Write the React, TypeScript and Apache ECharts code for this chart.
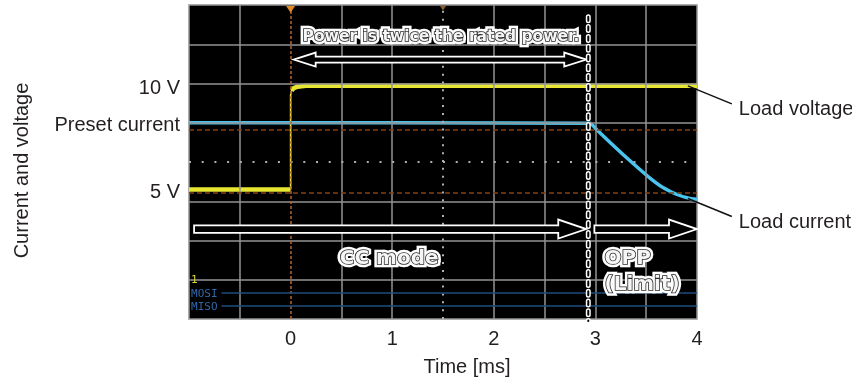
import React, { useEffect, useRef } from 'react';
import * as echarts from 'echarts';

// ---- data (time in ms, level in scope divisions 0..8) ----
const yLabelValues = [3.25, 4.98, 5.9];
const yLabelTexts = ['5 V', 'Preset current', '10 V'];

const voltageTime = [-1, 0, 0, 0.01, 0.03, 0.07, 0.15, 4];
const voltageLevel = [3.3, 3.3, 5.7, 5.82, 5.88, 5.92, 5.94, 5.94];

const currentTime = [-1, 2.947, 3.016, 3.145, 3.272, 3.41, 3.537, 3.665, 3.803, 3.931, 4.0];
const currentLevel = [5.0, 4.99, 4.815, 4.497, 4.191, 3.873, 3.592, 3.35, 3.172, 3.07, 3.045];

const gridX = [-0.5, 0.5, 1, 2, 2.5, 3, 3.5];
const gridY = [1, 2, 3, 5, 6, 7];
const centerX = 1.5;
const centerY = 4;
const triggerX = 0;
const cursorY = [4.82, 3.21];

const channelNames = ['1', 'MOSI', 'MISO'];
const channelLevel = [1.0, 0.66, 0.33];
const channelStart = -0.98;
const channelLineStart = -0.68;

const calloutTexts = ['Power is twice the rated power.', 'CC mode', 'OPP', '(Limit)'];
const calloutX = [1.48, 0.97, 3.09, 3.09];
const calloutY = [7.2, 1.58, 1.58, 0.92];

const arrowFrom = [0.03, -0.95, 2.99];
const arrowTo = [2.91, 2.91, 4.0];
const arrowLevel = [6.61, 2.29, 2.29];
const arrowBoth = [1, 0, 0];

const limitX = 2.93;
const limitTop = 7.7;
const limitBottom = -0.05;

const traceNames = ['Load voltage', 'Load current'];
const traceAnchorX = [3.91, 3.91];
const traceAnchorY = [5.94, 3.07];

const triggerMarks = [0, 1.5];

// ---- styles ----
const FONT = '"Liberation Sans", Arial, sans-serif';
const BOLD_FONT = '"DejaVu Sans", sans-serif';
const TEXT = '#231f20';
const GRID = '#939393';

export default function App() {
  const ref = useRef<HTMLDivElement>(null);

  useEffect(() => {
    if (!ref.current) return;
    const chart = echarts.init(ref.current, null, { renderer: 'svg' });

    const gridLineData: any[] = [];
    gridX.forEach((v) => gridLineData.push({ xAxis: v, lineStyle: { color: GRID, width: 1.5, type: 'solid' } }));
    gridY.forEach((v) => gridLineData.push({ yAxis: v, lineStyle: { color: GRID, width: 1.5, type: 'solid' } }));
    gridLineData.push({ xAxis: centerX, lineStyle: { color: '#b0b0b0', width: 2, type: [2, 5.85] } });
    gridLineData.push({ yAxis: centerY, lineStyle: { color: '#b0b0b0', width: 2, type: [2, 10.7] } });
    gridLineData.push({ xAxis: triggerX, lineStyle: { color: '#b5652a', width: 1.5, type: [3, 2] } });
    cursorY.forEach((v) => gridLineData.push({ yAxis: v, lineStyle: { color: '#7e4216', width: 1.5, type: [5, 3] } }));
    channelLevel.slice(1).forEach((v) =>
      gridLineData.push([
        { coord: [channelLineStart, v], lineStyle: { color: '#1f4d7c', width: 1.5, type: 'solid' } },
        { coord: [4, v] },
      ])
    );

    // thick flat levels with a break at the edge; thin rising edge drawn separately
    const voltagePoints = voltageTime.map((t, i) => [t, voltageLevel[i]]);
    const voltageFlat: any[] = [voltagePoints[0], voltagePoints[1], [0, '-'], ...voltagePoints.slice(3)];
    const voltageEdge = voltagePoints.slice(1, 6);

    const option: any = {
      animation: false,
      grid: {
        left: 189,
        right: 155,
        top: 5,
        bottom: 66,
        show: true,
        backgroundColor: '#000',
        borderColor: GRID,
        borderWidth: 1.5,
        outerBoundsMode: 'none',
      },
      xAxis: {
        type: 'value',
        min: -1,
        max: 4,
        interval: 0.5,
        axisLine: { show: false },
        axisTick: { show: false },
        splitLine: { show: false },
        axisLabel: {
          formatter: (v: number) => (v >= 0 && Number.isInteger(v) ? String(v) : ''),
          fontSize: 20,
          color: TEXT,
          fontFamily: FONT,
          margin: 9,
        },
        name: 'Time [ms]',
        nameLocation: 'middle',
        nameGap: 37,
        nameTextStyle: { fontSize: 20, color: TEXT, fontFamily: FONT, padding: [0, 0, 0, 48] },
      },
      yAxis: {
        type: 'value',
        min: 0,
        max: 8,
        interval: 1,
        axisLine: { show: false },
        axisTick: { show: false },
        splitLine: { show: false },
        axisLabel: {
          customValues: yLabelValues,
          formatter: (v: number) => {
            let best = 0;
            yLabelValues.forEach((y, i) => {
              if (Math.abs(y - v) < Math.abs(yLabelValues[best] - v)) best = i;
            });
            return yLabelTexts[best];
          },
          fontSize: 20,
          color: TEXT,
          fontFamily: FONT,
          margin: 9,
        },
        name: 'Current and voltage',
        nameLocation: 'middle',
        nameRotate: 90,
        nameGap: 158,
        nameTextStyle: { fontSize: 20, color: TEXT, fontFamily: FONT, padding: [0, 17, 0, 0] },
      },
      series: [
        {
          type: 'line',
          name: 'grid',
          data: [],
          silent: true,
          z: 1,
          markLine: { silent: true, symbol: 'none', label: { show: false }, data: gridLineData },
        },
        {
          type: 'line',
          name: 'Load voltage',
          data: voltageFlat,
          symbol: 'none',
          connectNulls: false,
          lineStyle: { color: '#e6e633', width: 4.5 },
          z: 3,
        },
        {
          type: 'line',
          name: 'Load voltage edge',
          data: voltageEdge,
          symbol: 'none',
          lineStyle: { color: '#e6e633', width: 1.6 },
          z: 3,
        },
        {
          type: 'line',
          name: 'Load current',
          data: currentTime.map((t, i) => [t, currentLevel[i]]),
          symbol: 'none',
          smooth: 0.15,
          lineStyle: { color: '#49c4ee', width: 3.5 },
          z: 4,
        },
        {
          type: 'custom',
          name: 'triggers',
          z: 5,
          data: triggerMarks.map((x) => [x, 8]),
          renderItem: (params: any, api: any) => {
            const p = api.coord([api.value(0), api.value(1)]);
            const s = params.dataIndex === 0 ? 4.5 : 3;
            return {
              type: 'polygon',
              shape: { points: [[p[0] - s, p[1] + 1], [p[0] + s, p[1] + 1], [p[0], p[1] + 1 + s * 1.5]] },
              style: { fill: params.dataIndex === 0 ? '#e08a2a' : '#8a5a2a' },
            };
          },
        },
        {
          type: 'custom',
          name: 'channels',
          z: 5,
          data: channelLevel.map((y) => [channelStart, y]),
          renderItem: (params: any, api: any) => {
            const p = api.coord([api.value(0), api.value(1)]);
            return {
              type: 'text',
              x: p[0],
              y: p[1],
              style: {
                text: channelNames[params.dataIndex],
                fill: params.dataIndex === 0 ? '#d8d830' : '#3068aa',
                fontSize: 11,
                fontFamily: '"DejaVu Sans Mono", monospace',
                align: 'left',
                verticalAlign: 'middle',
              },
            };
          },
        },
        {
          type: 'custom',
          name: 'arrows',
          z: 6,
          clip: false,
          data: arrowFrom.map((x, i) => [x, arrowTo[i], arrowLevel[i], arrowBoth[i]]),
          renderItem: (params: any, api: any) => {
            const a = api.coord([api.value(0), api.value(2)]);
            const b = api.coord([api.value(1), api.value(2)]);
            const both = api.value(3) === 1;
            const L = both ? 22 : 28;
            const H = both ? 7 : 9.5;
            const h = both ? 3 : 3.8;
            const y = a[1];
            const xa = a[0];
            const xb = b[0];
            const pts = both
              ? [
                  [xa, y], [xa + L, y - H], [xa + L, y - h], [xb - L, y - h], [xb - L, y - H],
                  [xb, y], [xb - L, y + H], [xb - L, y + h], [xa + L, y + h], [xa + L, y + H],
                ]
              : [
                  [xa, y - h], [xb - L, y - h], [xb - L, y - H], [xb, y],
                  [xb - L, y + H], [xb - L, y + h], [xa, y + h],
                ];
            return {
              type: 'polygon',
              shape: { points: pts },
              style: { fill: '#000', stroke: '#fff', lineWidth: 1.8, lineJoin: 'miter' },
            };
          },
        },
        {
          type: 'custom',
          name: 'limit',
          z: 7,
          clip: false,
          data: [[limitX, limitTop, limitBottom]],
          renderItem: (params: any, api: any) => {
            const t = api.coord([api.value(0), api.value(1)]);
            const b = api.coord([api.value(0), api.value(2)]);
            return {
              type: 'group',
              children: [
                {
                  type: 'line',
                  shape: { x1: t[0], y1: t[1], x2: b[0], y2: b[1] },
                  style: { stroke: '#fff', lineWidth: 5, lineDash: [4, 5.8], lineCap: 'round' },
                },
                {
                  type: 'line',
                  shape: { x1: t[0], y1: t[1], x2: b[0], y2: b[1] },
                  style: { stroke: '#000', lineWidth: 2, lineDash: [4, 5.8], lineCap: 'round' },
                },
              ],
            };
          },
        },
        {
          type: 'custom',
          name: 'callouts',
          z: 8,
          clip: false,
          data: calloutX.map((x, i) => [x, calloutY[i]]),
          renderItem: (params: any, api: any) => {
            const p = api.coord([api.value(0), api.value(1)]);
            const i = params.dataIndex;
            const size = i === 0 ? 15.5 : 20;
            const align = i >= 2 ? 'left' : 'center';
            const base = {
              text: calloutTexts[i],
              fontSize: size,
              fontWeight: 'bold',
              fontFamily: BOLD_FONT,
              align,
              verticalAlign: 'middle',
            };
            return {
              type: 'group',
              children: [
                { type: 'text', x: p[0], y: p[1], style: { ...base, fill: '#fff', stroke: '#fff', lineWidth: 6.5 } },
                {
                  type: 'text',
                  x: p[0],
                  y: p[1],
                  style: { ...base, fill: '#f6f6f6', stroke: '#2a2a2a', lineWidth: 1.6 },
                },
              ],
            };
          },
        },
        {
          type: 'custom',
          name: 'traceLabels',
          z: 8,
          clip: false,
          data: traceAnchorX.map((x, i) => [x, traceAnchorY[i]]),
          renderItem: (params: any, api: any) => {
            const p = api.coord([api.value(0), api.value(1)]);
            return {
              type: 'group',
              children: [
                {
                  type: 'line',
                  shape: { x1: p[0], y1: p[1], x2: p[0] + 44, y2: p[1] + 18 },
                  style: { stroke: '#111', lineWidth: 1.5 },
                },
                {
                  type: 'text',
                  x: p[0] + 51,
                  y: p[1] + 22,
                  style: {
                    text: traceNames[params.dataIndex],
                    fill: TEXT,
                    fontSize: 20,
                    fontFamily: FONT,
                    align: 'left',
                    verticalAlign: 'middle',
                  },
                },
              ],
            };
          },
        },
      ],
    };

    chart.setOption(option);
    return () => chart.dispose();
  }, []);

  return <div ref={ref} style={{ position: 'fixed', left: 0, top: 0, width: 852, height: 385 }} />;
}
